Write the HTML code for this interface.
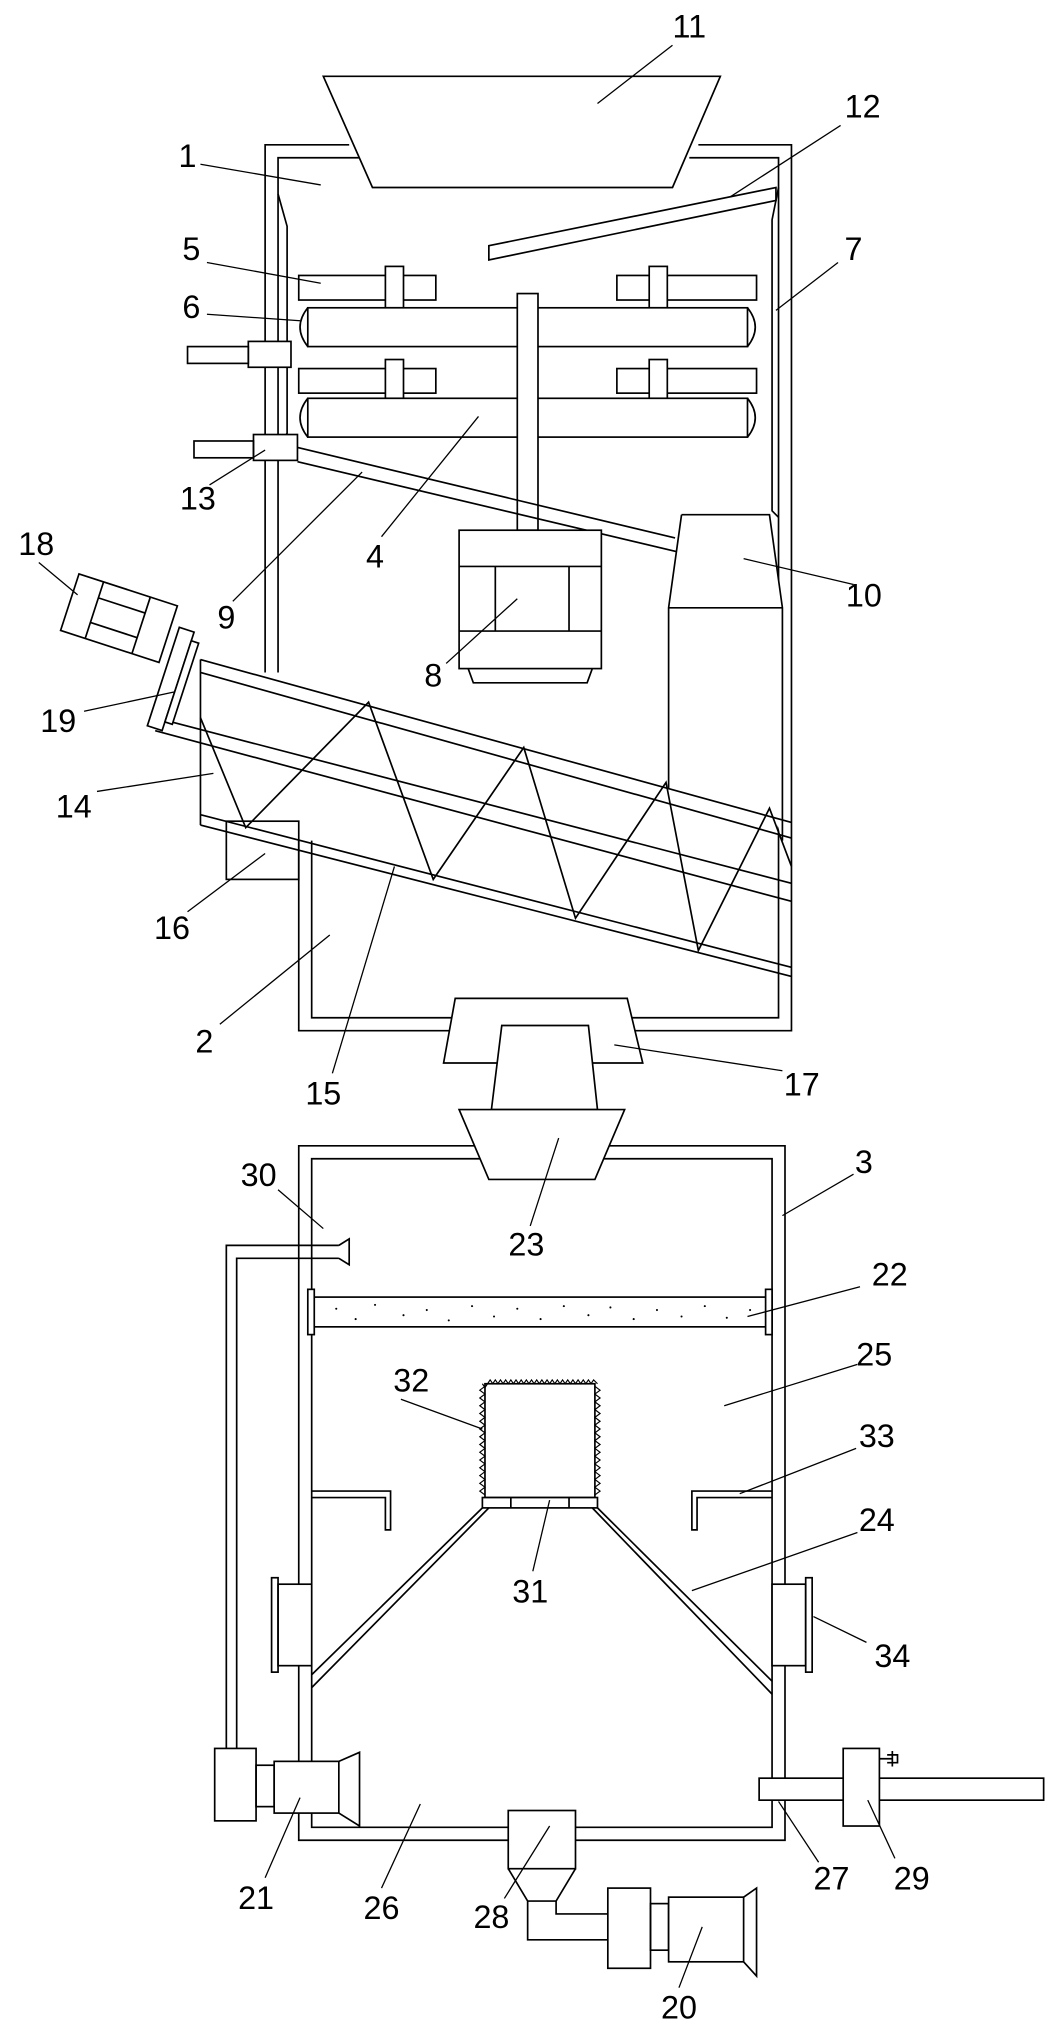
<!DOCTYPE html>
<html><head><meta charset="utf-8"><style>html,body{margin:0;padding:0;background:#fff}svg{display:block}</style></head><body>
<svg width="1054" height="2031" viewBox="0 0 815 1570.5" xmlns="http://www.w3.org/2000/svg">
<g fill="none" stroke="#000" stroke-width="1.3">
<!-- upper housing -->
<path d="M270,112 H205 V520"/><path d="M280,122 H215 V520"/>
<path d="M540,112 H612 V797 H231 V650"/><path d="M533,122 H602 V787 H241 V650"/>
<path d="M215,150 L222,175 V335 L215,345"/>
<path d="M602,145 L597,170 V395 L602,400"/>
<!-- hopper 11 -->
<path d="M250,59 H557 L520,145 H288 Z" fill="#fff"/>
<!-- plate 12 -->
<path d="M378,190 L600,145 V155 L378,201 Z"/>
<!-- blocks 5 -->
<rect x="231" y="213" width="106" height="19"/><rect x="477" y="213" width="108" height="19"/>
<rect x="231" y="285" width="106" height="19"/><rect x="477" y="285" width="108" height="19"/>
<rect x="298" y="206" width="14" height="32" fill="#fff"/><rect x="502" y="206" width="14" height="32" fill="#fff"/>
<rect x="298" y="278" width="14" height="30" fill="#fff"/><rect x="502" y="278" width="14" height="30" fill="#fff"/>
<!-- rollers 6 -->
<rect x="238" y="238" width="340" height="30" fill="#fff"/><path d="M238,238 Q226,253 238,268 M578,238 Q590,253 578,268"/>
<rect x="238" y="308" width="340" height="30" fill="#fff"/><path d="M238,308 Q226,323 238,338 M578,308 Q590,323 578,338"/>
<!-- shaft 4 -->
<rect x="400" y="227" width="16" height="183" fill="#fff"/>
<!-- side motors -->
<rect x="192" y="264" width="33" height="20" fill="#fff"/><rect x="145" y="268" width="47" height="13"/>
<rect x="196" y="336" width="34" height="20" fill="#fff"/><rect x="150" y="341" width="46" height="13"/>
<!-- chute 9 -->
<path d="M230,346 L522,416 M230,357 L525,427"/>
<!-- motor 8 -->
<rect x="355" y="410" width="110" height="107" fill="#fff"/>
<path d="M355,438 H465 M355,488 H465 M383,438 V488 M440,438 V488 M362,517 L366,528 H454 L458,517"/>
<!-- collector 10 -->
<path d="M527,398 H595 L605,470 V650 M527,398 L517,470 V610 M517,470 H605" fill="#fff"/>
<!-- screw conveyor -->
<path d="M155,510 L612,636 M155,520 L612,648 M120,555 L612,683 M120,565 L612,697 M155,630 L612,748 M155,638 L612,755 M155,510 V638"/>
<path d="M155,555 L190,640 L285,543 L335,680 L405,578 L445,710 L515,605 L540,735 L595,625 L612,670"/>
<rect x="175" y="635" width="56" height="45"/>
<!-- 19 flange & 18 motor -->
<g transform="rotate(18 132 525)"><rect x="126" y="485" width="12" height="80" fill="#fff"/><rect x="138" y="492" width="6" height="66" fill="#fff"/></g>
<g transform="rotate(18 92 478)"><rect x="52" y="455" width="80" height="46" fill="#fff"/><path d="M72,455 V501 M110,455 V501 M72,468 H110 M72,488 H110"/></g>
<!-- 17 connector -->
<path d="M352,772 H485 L497,822 H343 Z" fill="#fff"/>
<path d="M388,793 H455 L462,858 H380 Z" fill="#fff"/>
<!-- lower box 3 -->
<path d="M231,886 H607 V1423 H231 Z M241,896 H597 V1413 H241 Z"/>
<path d="M355,858 H483 L460,912 H378 Z" fill="#fff" stroke="#000"/>
<!-- filter 22 -->
<rect x="241" y="1003" width="356" height="23" fill="#fff"/>
<rect x="238" y="997" width="5" height="35" fill="#fff"/><rect x="592" y="997" width="5" height="35" fill="#fff"/>
<!-- nozzle 30 & pipe -->
<path d="M262,963 H175 V1352 M262,973 H183 V1352 M262,963 L270,958 V978 L262,973"/>
<!-- 21 motor -->
<rect x="166" y="1352" width="32" height="56" fill="#fff"/><rect x="198" y="1365" width="14" height="32"/><rect x="212" y="1362" width="50" height="40" fill="#fff"/><path d="M262,1362 L278,1355 V1412 L262,1402"/>
<!-- 32 -->
<rect x="375" y="1070" width="85" height="88"/>
<polyline stroke-width="0.9" points="373,1070 375,1073 377,1070 379,1067 381,1070 383,1067 385,1070 387,1067 389,1070 391,1067 393,1070 395,1067 397,1070 399,1067 401,1070 403,1067 405,1070 407,1067 409,1070 411,1067 413,1070 415,1067 417,1070 419,1067 421,1070 423,1067 425,1070 427,1067 429,1070 431,1067 433,1070 435,1067 437,1070 439,1067 441,1070 443,1067 445,1070 447,1067 449,1070 451,1067 453,1070 455,1067 457,1070 459,1067 462,1070"/>
<polyline stroke-width="0.9" points="375,1072 371,1075 375,1078 371,1081 375,1084 371,1087 375,1090 371,1093 375,1096 371,1099 375,1102 371,1105 375,1108 371,1111 375,1114 371,1117 375,1120 371,1123 375,1126 371,1129 375,1132 371,1135 375,1138 371,1141 375,1144 371,1147 375,1150 371,1153 375,1156"/>
<polyline stroke-width="0.9" points="460,1072 464,1075 460,1078 464,1081 460,1084 464,1087 460,1090 464,1093 460,1096 464,1099 460,1102 464,1105 460,1108 464,1111 460,1114 464,1117 460,1120 464,1123 460,1126 464,1129 460,1132 464,1135 460,1138 464,1141 460,1144 464,1147 460,1150 464,1153 460,1156"/>
<!-- 31 -->
<rect x="373" y="1158" width="89" height="8" fill="#fff"/><path d="M395,1158 V1166 M440,1158 V1166"/>
<!-- 24 cone -->
<path d="M373,1166 L241,1295 M378,1166 L241,1305 M462,1166 L597,1300 M458,1166 L597,1310"/>
<!-- 33 -->
<path d="M241,1153 H302 V1183 H298 V1158 H241"/>
<path d="M597,1153 H535 V1183 H539 V1158 H597"/>
<!-- 34 windows -->
<rect x="215" y="1225" width="26" height="63" fill="#fff"/><rect x="210" y="1220" width="5" height="73"/>
<rect x="597" y="1225" width="26" height="63" fill="#fff"/><rect x="623" y="1220" width="5" height="73"/>
<!-- 27 / 29 -->
<rect x="587" y="1375" width="220" height="17" fill="#fff"/>
<rect x="652" y="1352" width="28" height="60" fill="#fff"/><path d="M680,1360 H690 M690,1354 V1366 M686,1357 H694 V1363 H686"/>
<!-- 28 & 20 -->
<rect x="393" y="1400" width="52" height="45" fill="#fff"/>
<path d="M393,1445 L408,1470 H430 L445,1445 M408,1470 V1500 H470 M430,1470 V1480 H470"/>
<rect x="470" y="1460" width="33" height="62" fill="#fff"/><rect x="503" y="1472" width="14" height="36"/><rect x="517" y="1467" width="58" height="50" fill="#fff"/><path d="M575,1467 L585,1460 V1528 L575,1517"/>
<!-- leaders -->
<g stroke-width="1">
<path d="M520,35 L462,80"/><path d="M650,97 L565,152"/><path d="M155,127 L248,143"/>
<path d="M160,203 L248,219"/><path d="M648,203 L600,240"/><path d="M160,243 L232,248"/>
<path d="M162,375 L205,348"/><path d="M180,465 L280,365"/><path d="M295,415 L370,322"/>
<path d="M30,435 L60,460"/><path d="M660,452 L575,432"/><path d="M345,513 L400,463"/>
<path d="M65,550 L135,535"/><path d="M75,612 L165,598"/><path d="M145,705 L205,660"/>
<path d="M170,792 L255,723"/><path d="M257,830 L305,670"/><path d="M605,828 L475,808"/>
<path d="M410,948 L432,880"/><path d="M215,920 L250,950"/><path d="M660,908 L605,940"/>
<path d="M665,995 L578,1018"/><path d="M663,1055 L560,1087"/><path d="M310,1082 L373,1105"/>
<path d="M662,1120 L572,1155"/><path d="M663,1185 L535,1230"/><path d="M412,1215 L425,1160"/>
<path d="M670,1270 L629,1250"/><path d="M205,1452 L232,1390"/><path d="M295,1460 L325,1395"/>
<path d="M390,1468 L425,1412"/><path d="M633,1440 L602,1393"/><path d="M692,1437 L671,1392"/>
<path d="M525,1537 L543,1490"/>
</g>
</g>
<!-- speckles -->
<g fill="#000">
<circle cx="260" cy="1012" r="0.8"/><circle cx="275" cy="1020" r="0.8"/><circle cx="290" cy="1009" r="0.8"/><circle cx="312" cy="1017" r="0.8"/><circle cx="330" cy="1013" r="0.8"/><circle cx="347" cy="1021" r="0.8"/><circle cx="365" cy="1010" r="0.8"/><circle cx="382" cy="1018" r="0.8"/><circle cx="400" cy="1012" r="0.8"/><circle cx="418" cy="1020" r="0.8"/><circle cx="436" cy="1010" r="0.8"/><circle cx="455" cy="1017" r="0.8"/><circle cx="472" cy="1011" r="0.8"/><circle cx="490" cy="1020" r="0.8"/><circle cx="508" cy="1013" r="0.8"/><circle cx="527" cy="1018" r="0.8"/><circle cx="545" cy="1010" r="0.8"/><circle cx="562" cy="1019" r="0.8"/><circle cx="580" cy="1013" r="0.8"/>
</g>
<g font-family="Liberation Sans, sans-serif" font-size="25" text-anchor="middle" fill="#000">
<text x="533" y="29">11</text><text x="667" y="91">12</text><text x="145" y="129">1</text>
<text x="148" y="201">5</text><text x="660" y="201">7</text><text x="148" y="246">6</text>
<text x="153" y="394">13</text><text x="175" y="486">9</text><text x="290" y="439">4</text>
<text x="28" y="429">18</text><text x="668" y="469">10</text><text x="335" y="531">8</text>
<text x="45" y="566">19</text><text x="57" y="632">14</text><text x="133" y="726">16</text>
<text x="158" y="814">2</text><text x="250" y="854">15</text><text x="620" y="847">17</text>
<text x="407" y="971">23</text><text x="200" y="917">30</text><text x="668" y="907">3</text>
<text x="688" y="994">22</text><text x="676" y="1056">25</text><text x="318" y="1076">32</text>
<text x="678" y="1119">33</text><text x="678" y="1184">24</text><text x="410" y="1239">31</text>
<text x="690" y="1289">34</text><text x="198" y="1476">21</text><text x="295" y="1484">26</text>
<text x="380" y="1491">28</text><text x="643" y="1461">27</text><text x="705" y="1461">29</text>
<text x="525" y="1561">20</text>
</g>
</svg>
</body></html>
